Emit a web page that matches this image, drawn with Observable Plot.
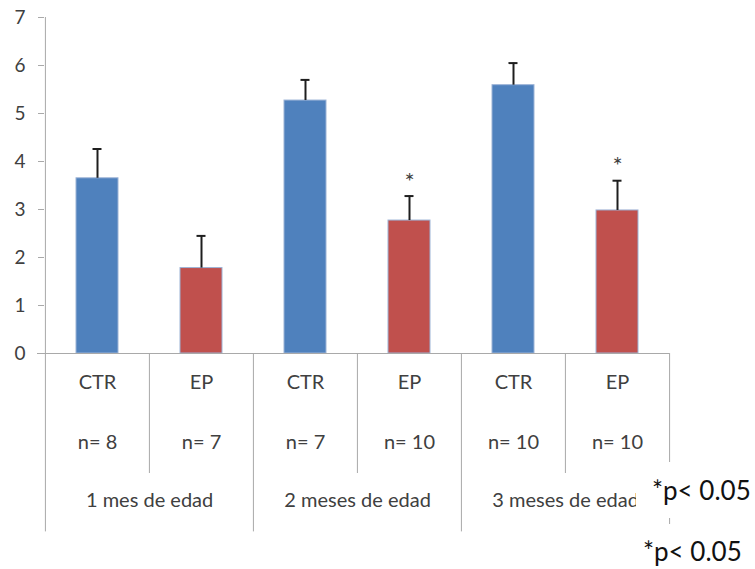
<!DOCTYPE html>
<html><head><meta charset="utf-8">
<script src="https://cdn.jsdelivr.net/npm/d3@7"></script>
<script src="https://cdn.jsdelivr.net/npm/@observablehq/plot@0.6"></script>
<style>
body{margin:0;background:#fff;font-family:Lato,sans-serif}
#wrap{position:relative;width:755px;height:569px;overflow:hidden}
</style></head><body><div id="wrap"></div>
<script>
// ---- data ----
const ages = ["1 mes de edad", "2 meses de edad", "3 meses de edad"];
const groups = ["CTR", "EP"];
const nLabels = ["n= 8", "n= 7", "n= 7", "n= 10", "n= 10", "n= 10"];
const means = [3.65, 1.78, 5.27, 2.77, 5.59, 2.98];
const sems = [0.61, 0.67, 0.43, 0.51, 0.46, 0.62];
const signif = [false, false, false, true, false, true];
const yTicks = [0, 1, 2, 3, 4, 5, 6, 7];
const noteText = "*p< 0.05";

const rows = [];
ages.forEach((age, a) => groups.forEach((g, j) => {
  const i = a * groups.length + j;
  rows.push({key: age + "|" + g, age, group: g, n: nLabels[i], mean: means[i], sem: sems[i], sig: signif[i], first: j === 0});
}));

const W = 755, H = 569, mL = 44, mR = 86, mT = 17, mB = 216;
const step = (W - mL - mR) / rows.length;
const grey = "#a9a9a9";
const txt = "#404040";
const errC = "#1e1e1e";

const chart = Plot.plot({
  width: W, height: H,
  marginLeft: mL, marginRight: mR, marginTop: mT, marginBottom: mB,
  style: {fontFamily: "Lato, sans-serif", background: "#fff"},
  x: {domain: rows.map(d => d.key), paddingInner: 0.6, paddingOuter: 0.3, axis: null},
  y: {domain: [0, 7], axis: null},
  color: {domain: groups, range: ["#4f81bd", "#c0504d"]},
  marks: [
    // y axis line
    Plot.ruleX([rows[0]], {x: "key", dx: -step / 2, y1: 0, y2: 7, stroke: grey}),
    Plot.axisY(yTicks, {tickSize: 6, tickPadding: 13, fontSize: 19, stroke: grey, fill: txt, label: null}),
    // bars
    Plot.barY(rows, {x: "key", y: "mean", fill: "group", stroke: "#9cb3d6", strokeWidth: 1}),
    Plot.ruleY([0], {stroke: grey, insetLeft: -7}),
    // error bars
    Plot.ruleX(rows, {x: "key", y1: "mean", y2: d => d.mean + d.sem, stroke: errC, strokeWidth: 2}),
    Plot.tickY(rows, {x: "key", y: d => d.mean + d.sem, stroke: errC, strokeWidth: 2, insetLeft: 16.5, insetRight: 16.5}),
    Plot.text(rows.filter(d => d.sig), {x: "key", y: d => d.mean + d.sem, text: d => "*", dy: -14, fontSize: 24, fill: txt}),
    // hierarchical category axis
    Plot.ruleX(rows.filter(d => !d.first), {x: "key", dx: -step / 2, y1: 0, y2: 0, insetBottom: -120, stroke: grey}),
    Plot.ruleX(rows.filter(d => d.first), {x: "key", dx: -step / 2, y1: 0, y2: 0, insetBottom: -178.4, stroke: grey}),
    Plot.ruleX([rows[rows.length - 1]], {x: "key", dx: step / 2, y1: 0, y2: 0, insetBottom: -178.4, stroke: grey}),
    Plot.text(rows, {x: "key", text: "group", frameAnchor: "bottom", dy: 35, fontSize: 20, fill: txt}),
    Plot.text(rows, {x: "key", text: "n", frameAnchor: "bottom", dy: 95, fontSize: 20, fill: txt}),
    Plot.text(rows.filter(d => d.first), {x: "key", text: "age", dx: step / 2, frameAnchor: "bottom", dy: 153.4, fontSize: 20, fill: txt})
  ]
});

document.getElementById("wrap").appendChild(chart);

// annotation notes (white boxes with the significance legend)
const svg = d3.select(chart);
const notes = [
  {box: [636, 462, 119, 56], x: 652, y: 499.5},
  {box: [636, 524, 119, 45], x: 643, y: 561}
];
notes.forEach(n => {
  svg.append("rect").attr("x", n.box[0]).attr("y", n.box[1]).attr("width", n.box[2]).attr("height", n.box[3]).attr("fill", "#fff");
  svg.append("text").attr("x", n.x).attr("y", n.y).attr("text-anchor", "start")
    .attr("font-family", "Lato, sans-serif").attr("font-size", 26).attr("fill", "#111").text(noteText);
});
</script>
</body></html>
